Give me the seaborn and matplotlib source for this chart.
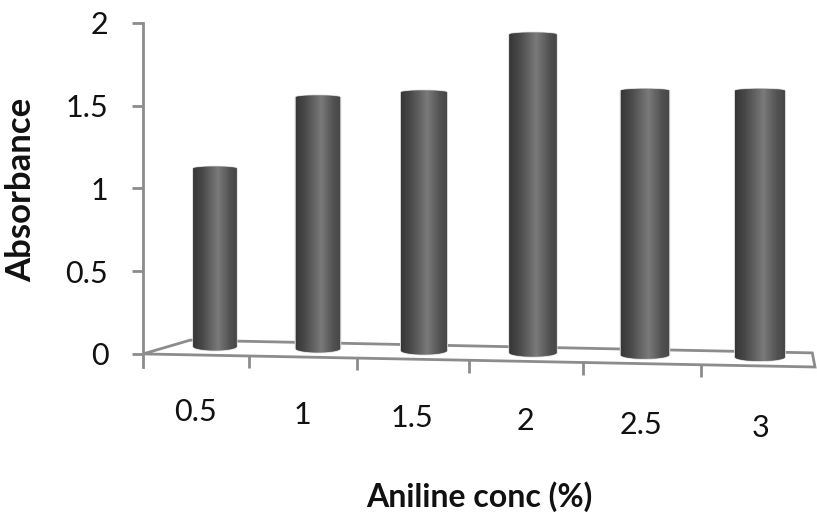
import numpy as np
import pandas as pd
import matplotlib
matplotlib.use("Agg")
import matplotlib.pyplot as plt
import seaborn as sns
from matplotlib.path import Path
from matplotlib.patches import PathPatch, Polygon
from matplotlib.collections import PolyCollection
from matplotlib.colors import LinearSegmentedColormap

# ---- data ----
concentrations = ["0.5", "1", "1.5", "2", "2.5", "3"]
absorbance = [1.12, 1.55, 1.58, 1.93, 1.59, 1.59]
y_ticks = [0, 0.5, 1, 1.5, 2]
y_tick_labels = ["0", "0.5", "1", "1.5", "2"]
x_title = "Aniline conc (%)"
y_title = "Absorbance"

sns.set_theme(style="white")
plt.rcParams["font.family"] = ["Lato", "DejaVu Sans"]

LINE_GREY = "#8c8c8c"
TEXT = "#111111"

W, H = 817, 521
fig = plt.figure(figsize=(W / 100, H / 100), dpi=100)
fig.patch.set_facecolor("white")

# plotting box: left/right/top/bottom in pixels
lp, rp, tp, bp = 143, 815, 23, 367
rect = [lp / W, 1 - bp / H, (rp - lp) / W, (bp - tp) / H]
ax = fig.add_axes(rect)
ax.set_facecolor("none")

df = pd.DataFrame({"conc": concentrations, "abs": absorbance})
sns.barplot(data=df, x="conc", y="abs", color="#555555", width=0.43,
            errorbar=None, ax=ax, zorder=3)

# slight perspective along the category direction (bars placed deeper in the scene)
c_bar = 1.5 / 101.5
ax.set_xscale("function", functions=(
    lambda i: i + c_bar * np.asarray(i) ** 2,
    lambda v: (-1 + np.sqrt(np.maximum(1 + 4 * c_bar * np.asarray(v), 1e-9))) / (2 * c_bar)))
ax.set_xlim(-0.716, 5.47)
ax.set_ylim(-0.079, 2.0)
ax.xaxis.set_major_locator(matplotlib.ticker.NullLocator())
ax.xaxis.set_minor_locator(matplotlib.ticker.NullLocator())

ax.set_yticks(y_ticks)
ax.set_yticklabels(y_tick_labels)
ax.tick_params(axis="y", direction="out", length=8, width=2, color=LINE_GREY,
               pad=17, labelsize=22, labelcolor=TEXT, left=True)
for s in ["top", "right", "bottom"]:
    ax.spines[s].set_visible(False)
ax.spines["left"].set_color(LINE_GREY)
ax.spines["left"].set_linewidth(2)

ax.set_ylabel(y_title, fontsize=25, fontweight="bold", color=TEXT, va="center")
ax.yaxis.set_label_coords(-0.182, 0.515)
ax.set_xlabel(x_title, fontsize=23, fontweight="bold", color=TEXT, va="center")
ax.xaxis.set_label_coords(0.501, -0.378)

# floor of the chart (axes fraction)
def front_edge(xf):
    return 0.038 * (1 - xf)

floor = Polygon([(0, 0.038), (0.070, 0.078), (0.996, 0.041), (1.0, 0.0)], closed=True,
                fill=False, edgecolor=LINE_GREY, linewidth=2, transform=ax.transAxes,
                clip_on=False, zorder=1)
ax.add_patch(floor)

# cylinder shading
shade = LinearSegmentedColormap.from_list(
    "cyl", [(0.0, "#363636"), (0.2, "#474747"), (0.58, "#7a7a7a"),
            (0.85, "#525252"), (1.0, "#474747")])

y0, y1 = ax.get_ylim()
px_per_unit = (bp - tp) / (y1 - y0)
e_bot = 4.0 / px_per_unit
e_top = 2.0 / px_per_unit
to_axes = ax.transAxes.inverted()

for p in list(ax.patches):
    if p is floor:
        continue
    x0, w, top = p.get_x(), p.get_width(), p.get_height()
    p.set_visible(False)
    xc = x0 + w / 2
    xf = to_axes.transform(ax.transData.transform((xc, 0)))[0]
    yb = y0 + (front_edge(xf) + 0.026) * (y1 - y0)

    t1 = np.linspace(np.pi, 2 * np.pi, 40)
    t2 = np.linspace(0, np.pi, 40)
    xs = np.concatenate([xc + w / 2 * np.cos(t1), xc + w / 2 * np.cos(t2)])
    ys = np.concatenate([yb + e_bot * np.sin(t1), top + e_top * np.sin(t2)])
    verts = np.column_stack([xs, ys])
    cyl = PathPatch(Path(np.vstack([verts, verts[:1]]), closed=True),
                    facecolor="none", edgecolor="#d4d4d4", linewidth=1.2, zorder=3)
    ax.add_patch(cyl)

    n = 60
    edges = np.linspace(x0, x0 + w, n + 1)
    polys = [[(edges[k], yb - 2 * e_bot), (edges[k + 1], yb - 2 * e_bot),
              (edges[k + 1], top + 2 * e_top), (edges[k], top + 2 * e_top)] for k in range(n)]
    cols = [shade((k + 0.5) / n) for k in range(n)]
    pc = PolyCollection(polys, facecolors=cols, edgecolors=cols, linewidths=0.3, zorder=4)
    ax.add_collection(pc)
    pc.set_clip_path(cyl)

# front axis: category slots along the front edge of the floor
ax2 = fig.add_axes(rect, frameon=False)
c_front = 1.5 / 104
ax2.set_xscale("function", functions=(
    lambda k: k + c_front * np.asarray(k) ** 2,
    lambda v: (-1 + np.sqrt(np.maximum(1 + 4 * c_front * np.asarray(v), 1e-9))) / (2 * c_front)))
ax2.set_xlim(0, 5.95)
ax2.set_ylim(0, 1)
ax2.set_xticks([])
ax2.set_yticks([])
to_axes2 = ax2.transAxes.inverted()

def xfrac(k):
    return to_axes2.transform(ax2.transData.transform((k, 0)))[0]

for k in range(1, len(concentrations)):
    e = front_edge(xfrac(k))
    ax2.plot([k, k], [e, e - 0.036], color=LINE_GREY, lw=2, clip_on=False,
             solid_capstyle="butt")

for k, lab in enumerate(concentrations):
    xf = xfrac(k + 0.5)
    ax2.text(k + 0.5, -0.131 - 0.0548 * (xf - 0.074), lab, ha="center", va="center",
             fontsize=22, color=TEXT, clip_on=False)

fig.savefig("out.png", dpi=100, facecolor="white")
